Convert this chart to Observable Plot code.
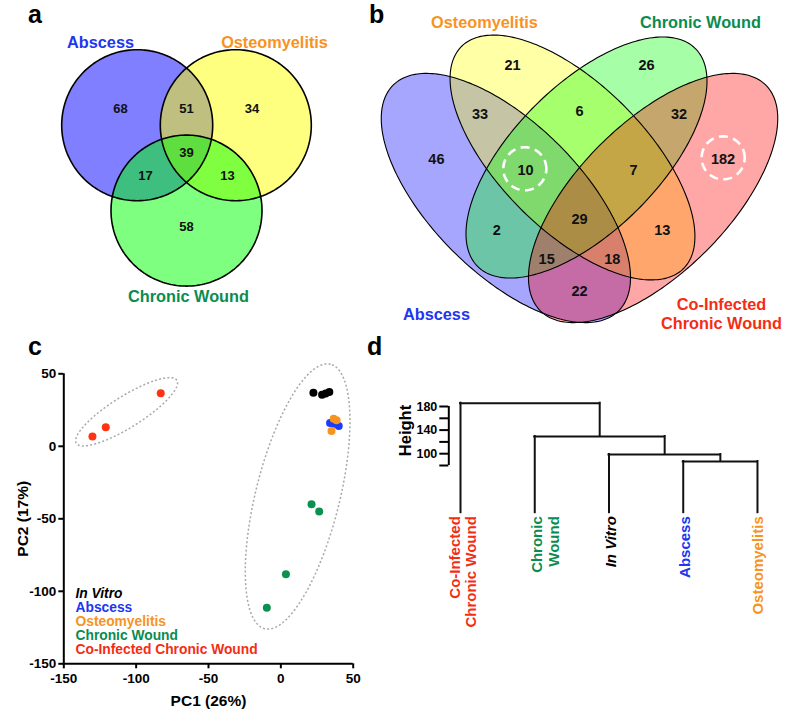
<!DOCTYPE html>
<html>
<head>
<meta charset="utf-8">
<script src="https://cdn.jsdelivr.net/npm/d3@7"></script>
<script src="https://cdn.jsdelivr.net/npm/@observablehq/plot@0.6"></script>
<style>
  body { margin: 0; background: #fff; }
  #fig { position: relative; width: 800px; height: 722px; overflow: hidden; background: #fff;
         font-family: "Liberation Sans", Arial, Helvetica, sans-serif; }
  .letter { position: absolute; font-size: 25px; font-weight: bold; line-height: 25px; color: #000; }
</style>
</head>
<body>
<div id="fig"></div>
<script>
// ---------------- DATA ----------------
// Panel a: 3-set Venn (A = Abscess, B = Osteomyelitis, C = Chronic Wound)
const setsA = ["Abscess", "Osteomyelitis", "Chronic Wound"];
const regionKeysA = ["A", "B", "C", "AB", "AC", "BC", "ABC"];
const regionCountsA = [68, 34, 58, 51, 17, 13, 39];

// Panel b: 4-set Venn (A = Abscess, B = Osteomyelitis, C = Chronic Wound, D = Co-Infected)
const setsB = ["Abscess", "Osteomyelitis", "Chronic Wound", "Co-Infected\nChronic Wound"];
const regionKeysB = ["A", "B", "C", "D", "AB", "BC", "CD", "ABC", "BCD", "AC", "ABCD", "BD", "ACD", "ABD", "AD"];
const regionCountsB = [46, 21, 26, 182, 33, 6, 32, 10, 7, 2, 29, 13, 15, 18, 22];
const highlightedB = ["ABC", "D"];

// Panel c: PCA scores
const groupsC = ["In Vitro", "Abscess", "Osteomyelitis", "Chronic Wound", "Co-Infected Chronic Wound"];
const pc1InVitro = [22.5, 28.5, 31, 33.5];
const pc2InVitro = [37, 35.5, 36.5, 37.5];
const pc1Abscess = [34, 37, 40];
const pc2Abscess = [16, 15.5, 14];
const pc1Osteo = [36.5, 38.5, 35];
const pc2Osteo = [19, 18, 10.5];
const pc1Chronic = [21.2, 26.5, 3.5, -9.7];
const pc2Chronic = [-40, -45, -88.2, -111.4];
const pc1CoInf = [-130.2, -121, -83];
const pc2CoInf = [6.8, 13.2, 36.6];
const ticksC = [-150, -100, -50, 0, 50];

// Panel d: hierarchical clustering
const leafLabels = ["Co-Infected\nChronic Wound", "Chronic\nWound", "In Vitro", "Abscess", "Osteomyelitis"];
const mergePairs = [[-4, -5], [-3, 1], [-2, 2], [-1, 3]]; // hclust style: negative = leaf, positive = merge step
const mergeHeights = [86.8, 98.6, 129.2, 185.6];
const heightTicks = [80, 100, 120, 140, 160, 180];
const heightTickLabels = [100, 140, 180];

// ---------------- STYLE / LAYOUT ----------------
const FONT = '"Liberation Sans", Arial, Helvetica, sans-serif';
const textColor = {
  "Abscess": "#2036f0", "Osteomyelitis": "#f7931e", "Chronic Wound": "#0a8c50",
  "Co-Infected Chronic Wound": "#f42d14", "In Vitro": "#000000"
};
const dotColor = {
  "Abscess": "#1a3cff", "Osteomyelitis": "#f7941e", "Chronic Wound": "#0a9150",
  "Co-Infected Chronic Wound": "#ff3314", "In Vitro": "#000000"
};

// Venn a layout in circle-radius units
const layoutA = {
  side: 1.306,
  fills: ["#0000ff", "#ffff00", "#00ff00"],
  regions: {A: [-0.874, 0.219], B: [0.867, 0.219], C: [0, -1.351], AB: [0, 0.219],
            AC: [-0.543, -0.669], BC: [0.543, -0.669], ABC: [0, -0.364]},
  titles: [[-1.139, 1.093], [1.166, 1.093], [0.026, -2.272]]
};
// Venn b layout in unit-square coordinates (ellipses: cx, cy, a, b, angle)
const layoutB = {
  ellipses: [[0.3364, 0.496, 0.35444, 0.16667, 135], [0.48444, 0.586, 0.34889, 0.16222, 135],
             [0.51556, 0.586, 0.34222, 0.16222, 45], [0.6636, 0.496, 0.35444, 0.16667, 45]],
  fills: ["#0000ff", "#ffff00", "#00ff00", "#ff0000"],
  regions: {A: [0.182, 0.582], B: [0.351, 0.790], C: [0.649, 0.790], D: [0.819, 0.582],
            AB: [0.279, 0.681], BC: [0.5, 0.688], CD: [0.721, 0.681], ABC: [0.38, 0.557],
            BCD: [0.62, 0.557], AC: [0.316, 0.424], ABCD: [0.5, 0.448], BD: [0.684, 0.424],
            ACD: [0.427, 0.359], ABD: [0.573, 0.359], AD: [0.5, 0.288]},
  circles: {ABC: [0.3785, 0.5609], D: [0.8193, 0.5853]},
  circleR: 0.0478,
  titles: [[0.1822, 0.2393], [0.2889, 0.8882], [0.7689, 0.8882], [0.8156, 0.2405]]
};
// Panel c confidence ellipses (data units)
const ellipsesC = [[-106.6, 23.8, 41, 10.8, 32], [11.6, -34.6, 94, 29, 76]];

// ---------------- HELPERS ----------------
const fig = document.getElementById("fig");
function place(el, left, top) {
  el.style.position = "absolute"; el.style.left = left + "px"; el.style.top = top + "px";
  fig.appendChild(el);
}
function ellipse(cx, cy, a, b, deg, n = 240) {
  const t = deg * Math.PI / 180, c = Math.cos(t), s = Math.sin(t);
  return d3.range(n).map(i => {
    const u = 2 * Math.PI * i / n, ex = a * Math.cos(u), ey = b * Math.sin(u);
    return {x: cx + ex * c - ey * s, y: cy + ex * s + ey * c};
  });
}
const baseStyle = {background: "transparent", fontFamily: FONT, overflow: "visible"};

// ---------------- PANEL a ----------------
{
  const s = layoutA.side;
  const centers = [[-s / 2, 0], [s / 2, 0], [0, -s * Math.sqrt(3) / 2]];
  const circles = centers.map(([cx, cy]) => ellipse(cx, cy, 1, 1, 0));
  const regions = regionKeysA.map((k, i) => ({x: layoutA.regions[k][0], y: layoutA.regions[k][1], n: regionCountsA[i]}));
  const titles = setsA.map((name, i) => ({x: layoutA.titles[i][0], y: layoutA.titles[i][1], name, color: textColor[name]}));
  const p = Plot.plot({
    width: 370, height: 320, margin: 0,
    x: {domain: [-2.4636, 2.4371], axis: null},
    y: {domain: [-2.5868, 1.6517], axis: null},
    color: {type: "identity"},
    style: baseStyle,
    marks: [
      ...circles.map((c, i) => Plot.line(c, {x: "x", y: "y", curve: "linear-closed", fill: layoutA.fills[i], fillOpacity: 0.5, stroke: "none"})),
      ...circles.map(c => Plot.line(c, {x: "x", y: "y", curve: "linear-closed", stroke: "#000", strokeWidth: 1.6})),
      Plot.text(regions, {x: "x", y: "y", text: "n", fontSize: 13, fontWeight: "bold", fill: "#111"}),
      Plot.text(titles, {x: "x", y: "y", text: "name", fill: "color", fontSize: 16.3, fontWeight: "bold"})
    ]
  });
  place(p, 0, 0);
}

// ---------------- PANEL b ----------------
{
  const shapes = layoutB.ellipses.map(e => ellipse(...e));
  const regions = regionKeysB.map((k, i) => ({x: layoutB.regions[k][0], y: layoutB.regions[k][1], n: regionCountsB[i]}));
  const rings = highlightedB.map(k => ellipse(layoutB.circles[k][0], layoutB.circles[k][1], layoutB.circleR, layoutB.circleR, 0, 120));
  const titles = setsB.map((name, i) => ({x: layoutB.titles[i][0], y: layoutB.titles[i][1], name,
    color: textColor[name.replace("\n", " ")]}));
  const p = Plot.plot({
    width: 430, height: 340, margin: 0,
    x: {domain: [0.035556, 0.991111], axis: null},
    y: {domain: [0.179333, 0.934889], axis: null},
    color: {type: "identity"},
    style: baseStyle,
    marks: [
      ...shapes.map((c, i) => Plot.line(c, {x: "x", y: "y", curve: "linear-closed", fill: layoutB.fills[i], fillOpacity: 0.35, stroke: "none"})),
      ...shapes.map(c => Plot.line(c, {x: "x", y: "y", curve: "linear-closed", stroke: "#000", strokeWidth: 1.1})),
      ...rings.map(c => Plot.line(c, {x: "x", y: "y", curve: "linear-closed", stroke: "#fff", strokeWidth: 2.6, strokeDasharray: "9,5.5", strokeLinecap: "butt"})),
      Plot.text(regions, {x: "x", y: "y", text: "n", fontSize: 14.5, fontWeight: "bold", fill: "#111"}),
      Plot.text(titles, {x: "x", y: "y", text: "name", fill: "color", fontSize: 16.3, fontWeight: "bold", lineHeight: 1.17})
    ]
  });
  place(p, 370, 0);
}

// ---------------- PANEL c ----------------
{
  const pts = [];
  const add = (g, xs, ys) => xs.forEach((x, i) => pts.push({g, x, y: ys[i], color: dotColor[g]}));
  add("Co-Infected Chronic Wound", pc1CoInf, pc2CoInf);
  add("In Vitro", pc1InVitro, pc2InVitro);
  add("Chronic Wound", pc1Chronic, pc2Chronic);
  add("Abscess", pc1Abscess, pc2Abscess);
  add("Osteomyelitis", pc1Osteo, pc2Osteo);
  const rings = ellipsesC.map(e => ellipse(...e));
  const legendMarks = groupsC.map((g, i) => Plot.text([g], {
    frameAnchor: "top-left", dx: 11.7, dy: 219.8 + 13.95 * i, textAnchor: "start", lineAnchor: "middle",
    fill: textColor[g], fontSize: 13.8, fontWeight: "bold", fontStyle: g === "In Vitro" ? "italic" : "normal"
  }));
  const p = Plot.plot({
    width: 370, height: 392,
    marginLeft: 63.3, marginRight: 17.3, marginTop: 43.3, marginBottom: 58.7,
    x: {domain: [-150, 50]},
    y: {domain: [-150, 50]},
    color: {type: "identity"},
    style: baseStyle,
    marks: [
      ...rings.map(c => Plot.line(c, {x: "x", y: "y", curve: "linear-closed", stroke: "#a8a8a8", strokeWidth: 1.5, strokeDasharray: "2,2.2", strokeLinecap: "butt"})),
      Plot.dot(pts, {x: "x", y: "y", r: 4, fill: "color", stroke: "none"}),
      Plot.axisX({ticks: ticksC, tickSize: 5, tickPadding: 5, tickFormat: d => String(d), fontSize: 13.5, fontWeight: "bold", strokeWidth: 2, label: null}),
      Plot.axisY({ticks: ticksC, tickSize: 5, tickPadding: 2.5, tickFormat: d => String(d), fontSize: 13.5, fontWeight: "bold", strokeWidth: 2, label: null}),
      Plot.ruleX([-150], {strokeWidth: 2}),
      Plot.ruleY([-150], {strokeWidth: 2}),
      Plot.text(["PC1 (26%)"], {frameAnchor: "bottom", dy: 37.3, textAnchor: "middle", lineAnchor: "middle", fontSize: 15.5, fontWeight: "bold"}),
      Plot.text(["PC2 (17%)"], {frameAnchor: "left", dx: -40.5, rotate: -90, textAnchor: "middle", lineAnchor: "middle", fontSize: 15.5, fontWeight: "bold"}),
      ...legendMarks
    ]
  });
  place(p, 0, 330);
}

// ---------------- PANEL d ----------------
{
  const leafX = leafLabels.map((_, i) => i + 1);
  const nodes = []; // {x, h}
  const pos = ref => ref < 0 ? {x: leafX[-ref - 1], h: 0} : nodes[ref - 1];
  const verts = [], horiz = [];
  mergePairs.forEach(([l, r], i) => {
    const a = pos(l), b = pos(r), h = mergeHeights[i];
    verts.push({x: a.x, y1: a.h, y2: h}, {x: b.x, y1: b.h, y2: h});
    horiz.push({y: h, x1: a.x, x2: b.x});
    nodes.push({x: (a.x + b.x) / 2, h});
  });
  const xDomain = [0.8424, 5.5];
  const labelShift = {"Co-Infected\nChronic Wound": 2.3, "Chronic\nWound": 10, "In Vitro": 1, "Abscess": 1, "Osteomyelitis": 0};
  const labelColor = {"Co-Infected\nChronic Wound": textColor["Co-Infected Chronic Wound"], "Chronic\nWound": textColor["Chronic Wound"],
    "In Vitro": "#000", "Abscess": textColor["Abscess"], "Osteomyelitis": textColor["Osteomyelitis"]};
  const labelMarks = leafLabels.map((lab, i) => Plot.text([{x: leafX[i], lab}], {
    x: "x", y: () => 0, text: "lab", rotate: -90, textAnchor: "end", lineAnchor: "middle", dx: labelShift[lab], dy: 3.5,
    lineHeight: lab.startsWith("Co") ? 1.11 : 1.18,
    fill: labelColor[lab], fontSize: 15, fontWeight: "bold", fontStyle: lab === "In Vitro" ? "italic" : "normal"
  }));
  const p = Plot.plot({
    width: 410, height: 392,
    marginLeft: 58.3, marginRight: 5.9, marginTop: 70.1, marginBottom: 209.8,
    x: {domain: xDomain, axis: null},
    y: {domain: [0, 190]},
    color: {type: "identity"},
    style: baseStyle,
    marks: [
      Plot.ruleX(verts, {x: "x", y1: "y1", y2: "y2", stroke: "#111", strokeWidth: 2, strokeLinecap: "square"}),
      Plot.ruleY(horiz, {y: "y", x1: "x1", x2: "x2", stroke: "#111", strokeWidth: 2, strokeLinecap: "square"}),
      Plot.axisY({ticks: heightTicks, tickSize: 9, tickPadding: 2.5, strokeWidth: 2,
        tickFormat: d => heightTickLabels.includes(d) ? String(d) : "", fontSize: 12.5, fontWeight: "bold", label: null}),
      Plot.ruleX([xDomain[0]], {y1: heightTicks[0], y2: heightTicks[heightTicks.length - 1], strokeWidth: 2}),
      Plot.text(["Height"], {frameAnchor: "top-left", dx: -43.5, dy: 29.9, rotate: -90, textAnchor: "middle", lineAnchor: "middle", fontSize: 16.5, fontWeight: "bold"}),
      ...labelMarks
    ]
  });
  place(p, 390, 330);
}

// ---------------- PANEL LETTERS ----------------
[["a", 28, 1.5], ["b", 369, 1.5], ["c", 28, 333.8], ["d", 367, 333.8]].forEach(([t, l, tp]) => {
  const d = document.createElement("div");
  d.className = "letter"; d.textContent = t;
  d.style.left = l + "px"; d.style.top = tp + "px";
  fig.appendChild(d);
});
</script>
</body>
</html>
